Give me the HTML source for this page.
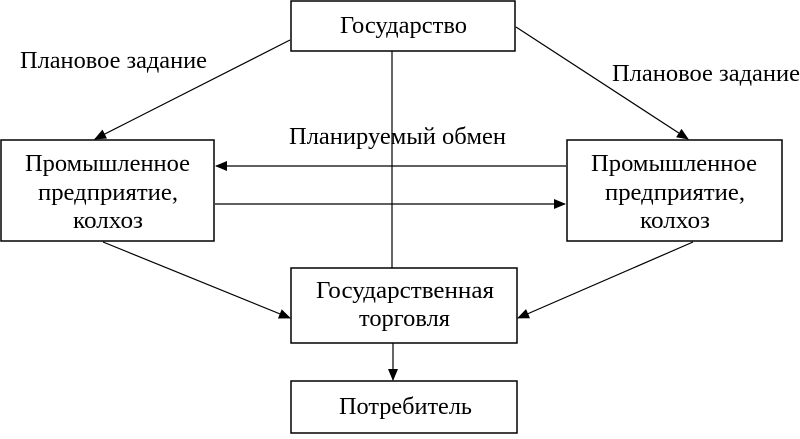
<!DOCTYPE html>
<html><head><meta charset="utf-8"><style>
body{margin:0;background:#fff;width:800px;height:434px;overflow:hidden}
svg text{font-family:"Liberation Serif",serif;font-size:24px;fill:#000}
</style></head><body>
<svg width="800" height="434" viewBox="0 0 800 434">
<defs><marker id="a" markerWidth="12" markerHeight="10" refX="11" refY="5" orient="auto" markerUnits="userSpaceOnUse"><path d="M0,0 L12,5 L0,10 z" fill="#000"/></marker></defs>
<g fill="none" stroke="#000" stroke-width="1.5">
<rect x="291" y="1" width="224" height="50"/>
<rect x="1" y="140" width="213" height="101"/>
<rect x="567" y="140" width="215" height="101"/>
<rect x="291" y="268" width="226" height="75"/>
<rect x="291" y="381" width="226" height="52"/>
</g>
<g stroke="#000" stroke-width="1.2">
<line x1="392" y1="51" x2="392" y2="268"/>
<line x1="290" y1="40" x2="95" y2="139" marker-end="url(#a)"/>
<line x1="516" y1="27" x2="688" y2="139" marker-end="url(#a)"/>
<line x1="566" y1="166" x2="216" y2="166" marker-end="url(#a)"/>
<line x1="215" y1="204" x2="565" y2="204" marker-end="url(#a)"/>
<line x1="103" y1="242" x2="290" y2="318" marker-end="url(#a)"/>
<line x1="693" y1="242" x2="518" y2="318" marker-end="url(#a)"/>
<line x1="393" y1="343" x2="393" y2="380" marker-end="url(#a)"/>
</g>
<g>
<text x="340" y="33" textLength="127" lengthAdjust="spacingAndGlyphs">Государство</text>
<text x="25" y="171" textLength="165" lengthAdjust="spacingAndGlyphs">Промышленное</text>
<text x="38" y="200" textLength="140" lengthAdjust="spacingAndGlyphs">предприятие,</text>
<text x="73" y="228" textLength="70" lengthAdjust="spacingAndGlyphs">колхоз</text>
<text x="591" y="171" textLength="166" lengthAdjust="spacingAndGlyphs">Промышленное</text>
<text x="605" y="200" textLength="140" lengthAdjust="spacingAndGlyphs">предприятие,</text>
<text x="640" y="228" textLength="70" lengthAdjust="spacingAndGlyphs">колхоз</text>
<text x="316" y="298" textLength="178" lengthAdjust="spacingAndGlyphs">Государственная</text>
<text x="359" y="326" textLength="91" lengthAdjust="spacingAndGlyphs">торговля</text>
<text x="339" y="414" textLength="133" lengthAdjust="spacingAndGlyphs">Потребитель</text>
<text x="289" y="144" textLength="217" lengthAdjust="spacingAndGlyphs">Планируемый обмен</text>
<text x="20" y="68" textLength="187" lengthAdjust="spacingAndGlyphs">Плановое задание</text>
<text x="612" y="81" textLength="188" lengthAdjust="spacingAndGlyphs">Плановое задание</text>
</g>
</svg>
</body></html>
